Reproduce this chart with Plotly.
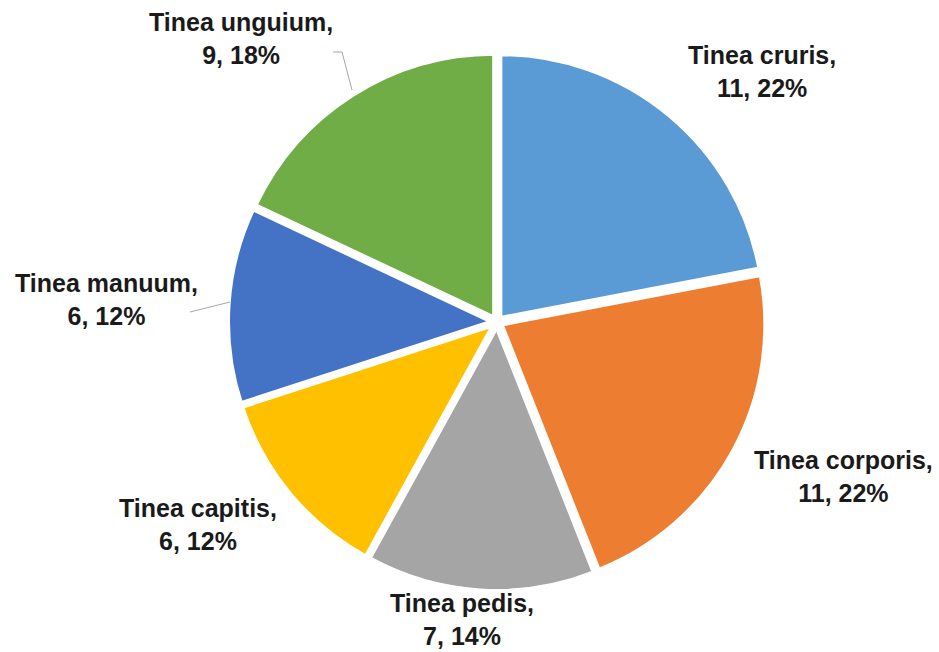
import plotly.graph_objects as go

W, H = 939, 652
labels = ["Tinea cruris", "Tinea corporis", "Tinea pedis", "Tinea capitis", "Tinea manuum", "Tinea unguium"]
values = [11, 11, 7, 6, 6, 9]
colors = ["#5B9BD5", "#ED7D31", "#A5A5A5", "#FFC000", "#4472C4", "#70AD47"]
# label block centers in pixels (layout only)
label_pos = [(762, 71), (843, 476), (462, 619), (198, 524), (106, 299), (241, 38)]

total = sum(values)

def px(x, y):
    return x / W, 1 - y / H

cx, cy, r = 497, 322, 269
fig = go.Figure(go.Pie(
    labels=labels, values=values, sort=False, direction="clockwise", rotation=0,
    marker=dict(colors=colors, line=dict(color="white", width=4)),
    pull=[0.02] * len(values),
    textinfo="none", hoverinfo="label+value+percent", showlegend=False,
    domain=dict(x=[(cx - r) / W, (cx + r) / W], y=[1 - (cy + r) / H, 1 - (cy - r) / H]),
))

annotations = []
for lab, v, (x, y) in zip(labels, values, label_pos):
    ax, ay = px(x, y)
    annotations.append(dict(
        x=ax, y=ay, xref="paper", yref="paper", showarrow=False,
        text=f"<b>{lab},<br>{v}, {round(100 * v / total)}%</b>",
        font=dict(family="Liberation Sans, Arial, sans-serif", size=25, color="#1a1a1a"),
        align="center", xanchor="center", yanchor="middle",
    ))

# leader lines
leaders = [
    [(333, 52), (342, 52), (352, 90)],
    [(190, 312), (230, 302)],
]
shapes = []
for pts in leaders:
    for (x0, y0), (x1, y1) in zip(pts[:-1], pts[1:]):
        a0, b0 = px(x0, y0)
        a1, b1 = px(x1, y1)
        shapes.append(dict(type="line", xref="paper", yref="paper", x0=a0, y0=b0, x1=a1, y1=b1,
                           line=dict(color="#A6A6A6", width=1)))

fig.update_layout(
    width=W, height=H, margin=dict(l=0, r=0, t=0, b=0),
    paper_bgcolor="white", plot_bgcolor="white",
    annotations=annotations, shapes=shapes,
)
fig.write_html("out.html", config={"displayModeBar": False},
               post_script="document.body.style.margin='0';")
